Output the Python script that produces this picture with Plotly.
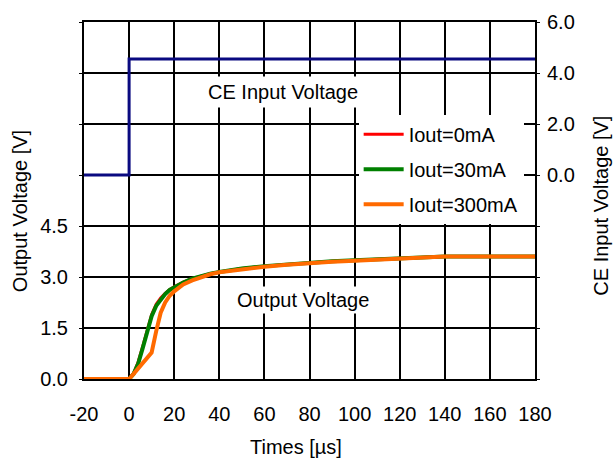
import plotly.graph_objects as go

# time axis (us)
t = [-20, 0, 2, 4, 6, 8, 10, 12, 14, 16, 18, 20, 24, 28, 32, 36, 40, 50, 60,
     70, 80, 90, 100, 110, 120, 130, 140, 150, 160, 170, 180]

# output voltage for each load current
v_0ma = [0, 0, 0.17, 0.5, 0.95, 1.42, 1.9, 2.2, 2.38, 2.52, 2.63, 2.71, 2.85, 2.96, 3.04,
         3.1, 3.15, 3.25, 3.32, 3.37, 3.42, 3.46, 3.49, 3.52, 3.55, 3.58, 3.6, 3.6, 3.6, 3.6, 3.6]
v_30ma = [0, 0, 0.15, 0.45, 0.9, 1.35, 1.85, 2.15, 2.35, 2.5, 2.62, 2.7, 2.84, 2.95, 3.03,
          3.1, 3.15, 3.25, 3.32, 3.37, 3.42, 3.46, 3.49, 3.52, 3.55, 3.58, 3.6, 3.6, 3.6, 3.6, 3.6]
v_300ma = [0, 0, 0.15, 0.3, 0.45, 0.6, 0.78, 1.4, 1.95, 2.25, 2.45, 2.58, 2.78, 2.9, 3.0,
           3.08, 3.14, 3.23, 3.3, 3.36, 3.41, 3.45, 3.48, 3.51, 3.55, 3.58, 3.6, 3.6, 3.6, 3.6, 3.6]

# CE input step
t_ce = [-20, 0, 0, 180]
v_ce = [0, 0, 4.55, 4.55]

x_ticks = [-20, 0, 20, 40, 60, 80, 100, 120, 140, 160, 180]
x_labels = ['-20', '0', '20', '40', '60', '80', '100', '120', '140', '160', '180']
y_ticks = [0, 1.5, 3, 4.5, 6, 7.5, 9, 10.5]
y_labels = ['0.0', '1.5', '3.0', '4.5', '', '', '', '']
y2_ticks = [-8, -6, -4, -2, 0, 2, 4, 6]
y2_labels = ['', '', '', '', '0.0', '2.0', '4.0', '6.0']

FONT = 'Liberation Sans, Arial, sans-serif'

fig = go.Figure()
fig.add_trace(go.Scatter(x=t, y=v_0ma, name='Iout=0mA', mode='lines', legendgroup='a',
                         line=dict(color='#ff0000', width=3)))
fig.add_trace(go.Scatter(x=t, y=v_30ma, name='Iout=30mA', mode='lines', legendgroup='b',
                         line=dict(color='#008000', width=4)))
fig.add_trace(go.Scatter(x=t, y=v_300ma, name='Iout=300mA', mode='lines', legendgroup='c',
                         line=dict(color='#ff6a00', width=4)))
fig.add_trace(go.Scatter(x=t_ce, y=v_ce, name='CE', mode='lines', yaxis='y2', showlegend=False,
                         line=dict(color='#0a0a80', width=3)))

fig.update_layout(
    width=613, height=459,
    margin=dict(l=84, r=78, t=22, b=80),
    paper_bgcolor='white', plot_bgcolor='white',
    font=dict(family=FONT, size=20, color='black'),
    showlegend=True,
    legend=dict(x=0.609, y=0.74, xanchor='left', yanchor='top', bgcolor='white',
                font=dict(size=20), tracegroupgap=6, itemwidth=40),
    xaxis=dict(range=[-20, 180], tickvals=x_ticks, ticktext=x_labels, showgrid=True,
               gridcolor='black', gridwidth=1.5, showline=True, linecolor='black',
               linewidth=2, mirror=True, zeroline=False, ticks='', ticklabelstandoff=16),
    yaxis=dict(range=[0, 10.5], tickvals=y_ticks, ticktext=y_labels, showgrid=True,
               gridcolor='black', gridwidth=1.5, showline=True, linecolor='black',
               linewidth=2, zeroline=False, ticks='outside', ticklen=3, tickcolor='black',
               ticklabelstandoff=7),
    yaxis2=dict(range=[-8, 6], tickvals=y2_ticks, ticktext=y2_labels, overlaying='y',
                side='right', showgrid=False, showline=True, linecolor='black', linewidth=2,
                zeroline=False, ticks='outside', ticklen=3, tickcolor='black',
                ticklabelstandoff=3),
    annotations=[
        dict(text='Times [\u00b5s]', xref='paper', yref='paper', x=0.47, y=-0.19,
             showarrow=False, font=dict(size=20), xanchor='center', yanchor='middle'),
        dict(text='Output Voltage [V]', xref='paper', yref='paper', x=-0.142, y=0.47,
             textangle=-90, showarrow=False, font=dict(size=20), xanchor='center',
             yanchor='middle'),
        dict(text='CE Input Voltage [V]', xref='paper', yref='paper', x=1.146, y=0.485,
             textangle=-90, showarrow=False, font=dict(size=20), xanchor='center',
             yanchor='middle'),
        dict(text='CE Input Voltage', xref='paper', yref='paper', x=0.442, y=0.805,
             showarrow=False, font=dict(size=20), bgcolor='white', borderpad=4,
             xanchor='center', yanchor='middle'),
        dict(text='Output Voltage', xref='paper', yref='paper', x=0.485, y=0.22,
             showarrow=False, font=dict(size=20), bgcolor='white', borderpad=2,
             xanchor='center', yanchor='middle'),
    ],
)

fig.write_html('out.html', config={'displayModeBar': False},
               post_script="document.body.style.margin='0';")
